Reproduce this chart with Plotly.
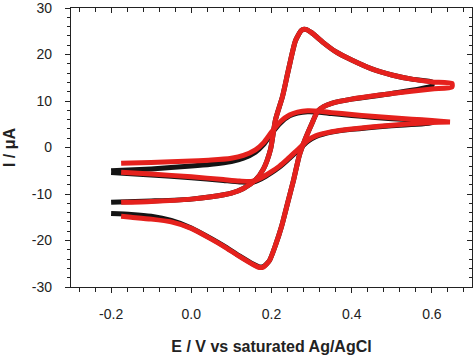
import plotly.graph_objects as go

# ---- data (E in V vs Ag/AgCl, I in uA) ----
# Black, large CV
blk_big_fwd_E = [-0.2, -0.1, 0.0, 0.05, 0.1, 0.13, 0.16, 0.18, 0.1975, 0.21, 0.2275, 0.2425, 0.26, 0.275, 0.285, 0.3, 0.33, 0.36, 0.4, 0.45, 0.5, 0.55, 0.6]
blk_big_fwd_I = [-11.8, -11.5, -11.1, -10.6, -9.8, -8.8, -7.0, -4.6, -0.4, 6.0, 11.0, 16.8, 23.0, 25.2, 25.4, 24.7, 22.5, 20.6, 18.8, 16.9, 15.6, 14.7, 14.1]
blk_big_rev_E = [0.6, 0.5, 0.4, 0.35, 0.33, 0.315, 0.3, 0.285, 0.27, 0.255, 0.24, 0.225, 0.21, 0.195, 0.18, 0.17, 0.155, 0.12, 0.08, 0.05, 0.0, -0.05, -0.1, -0.15, -0.2]
blk_big_rev_I = [13.3, 11.6, 10.4, 9.5, 8.8, 7.8, 5.0, 2.0, -1.5, -7.0, -12.0, -17.0, -21.0, -24.3, -25.6, -25.7, -25.1, -23.3, -21.1, -19.6, -17.3, -15.7, -14.8, -14.4, -14.2]

# Red, large CV
red_big_fwd_E = [-0.175, -0.1, 0.0, 0.05, 0.1, 0.13, 0.16, 0.18, 0.1975, 0.21, 0.2275, 0.2425, 0.26, 0.275, 0.285, 0.3, 0.33, 0.36, 0.4, 0.45, 0.5, 0.55, 0.6, 0.65]
red_big_fwd_I = [-11.8, -11.6, -11.1, -10.6, -9.8, -8.8, -7.0, -4.6, -0.4, 6.0, 11.0, 16.8, 23.0, 25.2, 25.4, 24.7, 22.5, 20.6, 18.8, 16.9, 15.6, 14.7, 14.1, 13.8]
red_big_rev_E = [0.65, 0.6, 0.5, 0.4, 0.35, 0.33, 0.315, 0.3, 0.285, 0.27, 0.255, 0.24, 0.225, 0.21, 0.195, 0.18, 0.17, 0.155, 0.12, 0.08, 0.05, 0.0, -0.05, -0.1, -0.15, -0.175]
red_big_rev_I = [13.0, 12.6, 11.6, 10.4, 9.5, 8.8, 7.8, 5.0, 2.0, -1.5, -7.0, -12.0, -17.0, -21.0, -24.3, -25.7, -25.8, -25.2, -23.4, -21.2, -19.7, -17.4, -16.0, -15.4, -15.0, -14.8]

# Black, small CV
blk_small_fwd_E = [-0.2, -0.1, 0.0, 0.05, 0.1, 0.13, 0.16, 0.18, 0.2, 0.2225, 0.245, 0.265, 0.29, 0.32, 0.35, 0.4, 0.45, 0.5, 0.55, 0.6]
blk_small_fwd_I = [-5.0, -4.6, -4.0, -3.6, -3.0, -2.3, -1.0, 0.6, 3.0, 5.3, 6.8, 7.4, 7.7, 7.6, 7.3, 6.9, 6.5, 6.2, 5.9, 5.6]
blk_small_rev_E = [0.6, 0.5, 0.4, 0.35, 0.31, 0.29, 0.265, 0.24, 0.22, 0.2, 0.175, 0.15, 0.12, 0.08, 0.0, -0.1, -0.2]
blk_small_rev_I = [5.3, 4.7, 3.9, 3.3, 2.3, 1.3, -0.7, -2.7, -4.2, -5.4, -6.7, -7.5, -7.4, -7.1, -6.5, -5.9, -5.4]

# Red, small CV
red_small_fwd_E = [-0.175, -0.1, 0.0, 0.05, 0.1, 0.13, 0.16, 0.18, 0.2, 0.2225, 0.245, 0.265, 0.29, 0.32, 0.35, 0.4, 0.45, 0.5, 0.55, 0.6, 0.645]
red_small_fwd_I = [-3.4, -3.2, -2.9, -2.7, -2.3, -1.7, -0.5, 1.0, 3.3, 5.6, 7.0, 7.6, 7.9, 7.8, 7.5, 7.1, 6.7, 6.4, 6.1, 5.8, 5.5]
red_small_rev_E = [0.645, 0.6, 0.5, 0.4, 0.35, 0.31, 0.29, 0.265, 0.24, 0.22, 0.2, 0.175, 0.15, 0.12, 0.08, 0.0, -0.1, -0.175]
red_small_rev_I = [5.5, 5.4, 4.8, 4.0, 3.4, 2.5, 1.5, -0.5, -2.5, -4.0, -5.2, -6.5, -7.3, -7.2, -6.9, -6.3, -5.7, -5.3]

x_tickvals = [-0.2, 0.0, 0.2, 0.4, 0.6]
x_ticktext = ["-0.2", "0.0", "0.2", "0.4", "0.6"]
y_tickvals = [-30, -20, -10, 0, 10, 20, 30]
y_ticktext = ["-30", "-20", "-10", "0", "10", "20", "30"]

BLACK = "#141414"
RED = "#e5211d"
FONT = "Liberation Sans, Arial, sans-serif"

fig = go.Figure()

def add_cv(E_f, I_f, E_r, I_r, color, width):
    fig.add_trace(go.Scatter(
        x=E_f + E_r, y=I_f + I_r, mode="lines",
        line=dict(color=color, width=width, shape="spline", smoothing=0.6),
        showlegend=False, hoverinfo="skip", cliponaxis=False))

add_cv(blk_big_fwd_E, blk_big_fwd_I, blk_big_rev_E, blk_big_rev_I, BLACK, 5)
add_cv(blk_small_fwd_E, blk_small_fwd_I, blk_small_rev_E, blk_small_rev_I, BLACK, 5)
add_cv(red_big_fwd_E, red_big_fwd_I, red_big_rev_E, red_big_rev_I, RED, 5)
add_cv(red_small_fwd_E, red_small_fwd_I, red_small_rev_E, red_small_rev_I, RED, 5)

# invisible trace to anchor mirrored axes (top / right, ticks inside)
fig.add_trace(go.Scatter(x=[0.0], y=[0.0], xaxis="x2", yaxis="y2", mode="markers",
                         marker=dict(opacity=0), showlegend=False, hoverinfo="skip"))

axis_common = dict(showgrid=False, zeroline=False, showline=True, linecolor="#222",
                   linewidth=1.2, tickcolor="#222", ticklen=5, tickwidth=1,
                   automargin=False)

fig.update_layout(
    width=474, height=356,
    margin=dict(l=71, r=2, t=8, b=69, autoexpand=False),
    paper_bgcolor="white", plot_bgcolor="white",
    font=dict(family=FONT, size=14, color="#222"),
    xaxis=dict(range=[-0.3, 0.7], tickvals=x_tickvals, ticktext=x_ticktext,
               ticks="outside", ticklabelstandoff=9, ticklabeloverflow="allow",
               minor=dict(dtick=0.04, tick0=0, ticks="outside", ticklen=4, tickcolor="#222"),
               title=dict(text="<b>E / V vs saturated Ag/AgCl</b>", font=dict(size=16, family=FONT, color="#222"), standoff=19),
               **axis_common),
    yaxis=dict(range=[-30, 30.001], tickvals=y_tickvals, ticktext=y_ticktext,
               ticks="outside", ticklabelstandoff=10, ticklabeloverflow="allow",
               minor=dict(dtick=2, tick0=0, ticks="outside", ticklen=3, tickcolor="#222"),
               title=dict(text="<b>I / μA</b>", font=dict(size=16, family=FONT, color="#222"), standoff=12),
               **axis_common),
    xaxis2=dict(range=[-0.3, 0.7], overlaying="x", side="top", anchor="y2",
                tickvals=x_tickvals, ticks="inside", showticklabels=False,
                minor=dict(dtick=0.04, tick0=0, ticks="inside", ticklen=4, tickcolor="#222"),
                **axis_common),
    yaxis2=dict(range=[-30, 30.001], overlaying="y", side="right", anchor="x2",
                tickvals=y_tickvals, ticks="inside", showticklabels=False,
                minor=dict(dtick=2, tick0=0, ticks="inside", ticklen=3, tickcolor="#222"),
                **axis_common),
)

fig.write_html("out.html", config={"displayModeBar": False},
               post_script="document.body.style.margin='0';document.body.style.padding='0';")
